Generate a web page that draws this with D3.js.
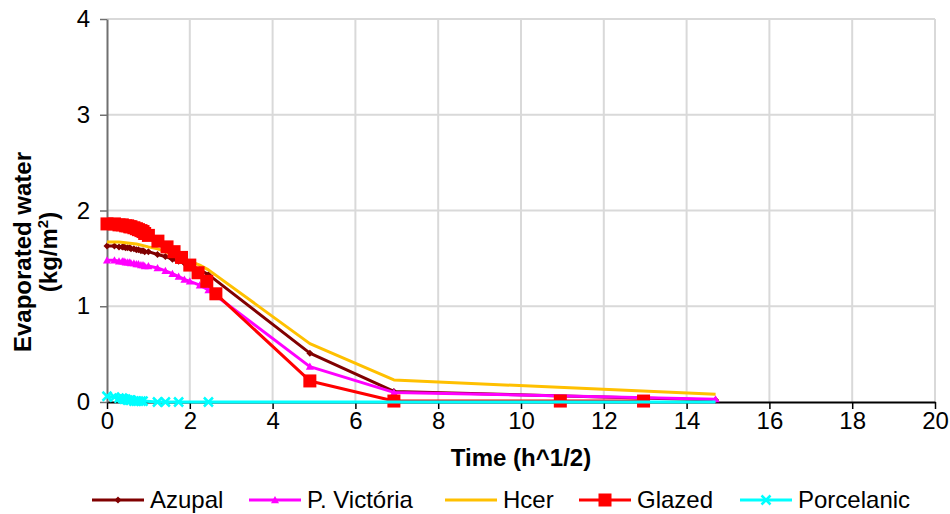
<!DOCTYPE html>
<html>
<head>
<meta charset="utf-8">
<script src="https://cdn.jsdelivr.net/npm/d3@7"></script>
<style>
  html, body { margin: 0; padding: 0; background: #fff; }
  svg { display: block; font-family: "Liberation Sans", Arial, sans-serif; }
</style>
</head>
<body>
<svg id="chart" width="950" height="514"></svg>
<script>
// Drying curves: evaporated water (kg/m²) against the square root of time (h^1/2)
const seriesNames = ["Azupal", "P. Victória", "Hcer", "Glazed", "Porcelanic"];

const azupalTime = [0, 0.18, 0.29, 0.37, 0.41, 0.45, 0.5, 0.55, 0.58, 0.65, 0.71, 0.76, 0.82, 0.87, 0.91, 1.0, 1.22, 1.41, 1.58, 1.73, 1.87, 2.0, 2.24, 2.45, 4.9, 6.93, 14.7];
const azupalWater = [1.63, 1.63, 1.62, 1.62, 1.62, 1.61, 1.61, 1.61, 1.60, 1.60, 1.59, 1.59, 1.58, 1.58, 1.57, 1.57, 1.54, 1.52, 1.49, 1.47, 1.45, 1.43, 1.38, 1.33, 0.51, 0.11, 0.02];

const victoriaTime = [0, 0.18, 0.29, 0.37, 0.41, 0.45, 0.5, 0.55, 0.58, 0.65, 0.71, 0.76, 0.82, 0.87, 0.91, 1.0, 1.22, 1.41, 1.58, 1.73, 1.87, 2.0, 2.24, 2.45, 4.9, 6.93, 14.7];
const victoriaWater = [1.48, 1.48, 1.47, 1.47, 1.47, 1.46, 1.46, 1.46, 1.45, 1.45, 1.44, 1.44, 1.43, 1.43, 1.42, 1.42, 1.40, 1.37, 1.34, 1.31, 1.28, 1.26, 1.22, 1.17, 0.37, 0.10, 0.03];

const hcerTime = [0, 0.29, 0.5, 0.71, 1.0, 1.22, 1.41, 1.58, 1.73, 2.0, 2.24, 2.45, 4.9, 6.93, 14.7];
const hcerWater = [1.67, 1.67, 1.66, 1.65, 1.62, 1.60, 1.57, 1.54, 1.52, 1.47, 1.43, 1.38, 0.61, 0.23, 0.08];

const glazedTime = [0, 0.18, 0.29, 0.37, 0.45, 0.5, 0.55, 0.58, 0.65, 0.71, 0.76, 0.82, 0.87, 0.91, 1.0, 1.23, 1.45, 1.62, 1.8, 2.0, 2.2, 2.41, 2.63, 4.9, 6.93, 10.95, 12.96];
const glazedWater = [1.86, 1.86, 1.85, 1.85, 1.84, 1.84, 1.83, 1.83, 1.82, 1.81, 1.80, 1.79, 1.78, 1.76, 1.74, 1.68, 1.62, 1.57, 1.51, 1.43, 1.35, 1.26, 1.13, 0.22, 0.01, 0.01, 0.01];

const porcelanicTime = [0, 0.18, 0.29, 0.37, 0.41, 0.45, 0.5, 0.55, 0.58, 0.65, 0.71, 0.76, 0.82, 0.87, 1.22, 1.41, 1.73, 2.45, 14.7];
const porcelanicWater = [0.06, 0.05, 0.04, 0.04, 0.03, 0.03, 0.02, 0.02, 0.02, 0.01, 0.01, 0.01, 0.01, 0.01, 0.0, 0.0, 0.0, 0.0, 0.0];
// last Porcelanic reading is plotted without a marker
const porcelanicMarkedCount = 18;

const xTicks = [0, 2, 4, 6, 8, 10, 12, 14, 16, 18, 20];
const yTicks = [0, 1, 2, 3, 4];

const series = [
  { name: seriesNames[0], t: azupalTime, w: azupalWater, color: "#800000", marker: "diamond" },
  { name: seriesNames[1], t: victoriaTime, w: victoriaWater, color: "#FF00FF", marker: "triangle" },
  { name: seriesNames[2], t: hcerTime, w: hcerWater, color: "#FFC000", marker: "none" },
  { name: seriesNames[3], t: glazedTime, w: glazedWater, color: "#FF0000", marker: "square" },
  { name: seriesNames[4], t: porcelanicTime, w: porcelanicWater, color: "#00FFFF", marker: "cross", marked: porcelanicMarkedCount }
];

const svg = d3.select("#chart");
const plot = { left: 107, right: 935, top: 19, bottom: 402 };

const x = d3.scaleLinear().domain([0, 20]).range([plot.left, plot.right]);
const y = d3.scaleLinear().domain([0, 4]).range([plot.bottom, plot.top]);

// grid
const grid = svg.append("g");
grid.selectAll("line.v").data(xTicks.slice(1)).join("line")
  .attr("x1", d => x(d)).attr("x2", d => x(d))
  .attr("y1", plot.top).attr("y2", plot.bottom)
  .attr("stroke", "#d9d9d9").attr("stroke-width", 2);
grid.selectAll("line.h").data(yTicks.slice(1)).join("line")
  .attr("x1", plot.left).attr("x2", plot.right)
  .attr("y1", d => y(d)).attr("y2", d => y(d))
  .attr("stroke", "#d9d9d9").attr("stroke-width", 2);

// axes
const fontSize = 24;
const fontFamily = "Liberation Sans, Arial, sans-serif";
const xAxis = svg.append("g").attr("transform", `translate(0,${plot.bottom})`)
  .call(d3.axisBottom(x).tickValues(xTicks).tickFormat(d3.format("d")).tickSizeInner(7).tickSizeOuter(0).tickPadding(3));
xAxis.select(".domain").attr("stroke", "#000").attr("stroke-width", 2);
xAxis.selectAll(".tick line").attr("stroke", "#000").attr("stroke-width", 1.5);
xAxis.selectAll(".tick text").attr("font-size", fontSize).attr("fill", "#000").attr("font-family", fontFamily);

const yAxis = svg.append("g").attr("transform", `translate(${plot.left},0)`)
  .call(d3.axisLeft(y).tickValues(yTicks).tickFormat(d3.format("d")).tickSizeInner(7).tickSizeOuter(0).tickPadding(10));
yAxis.select(".domain").attr("stroke", "#707070").attr("stroke-width", 2);
yAxis.selectAll(".tick line").attr("stroke", "#707070").attr("stroke-width", 1.5);
yAxis.selectAll(".tick text").attr("font-size", fontSize).attr("fill", "#000").attr("font-family", fontFamily);

// axis titles
svg.append("text")
  .attr("x", x(10)).attr("y", 466)
  .attr("text-anchor", "middle").attr("font-weight", "bold").attr("font-size", fontSize)
  .text("Time (h^1/2)");

const yTitle = svg.append("text")
  .attr("transform", "translate(0,252) rotate(-90)")
  .attr("text-anchor", "middle").attr("font-weight", "bold").attr("font-size", fontSize);
yTitle.append("tspan").attr("x", 0).attr("y", 31).text("Evaporated water");
yTitle.append("tspan").attr("x", 0).attr("y", 57).text("(kg/m");
yTitle.append("tspan").attr("dy", -9).attr("font-size", 15).text("2");
yTitle.append("tspan").attr("dy", 9).text(")");

// markers
function drawMarker(g, kind, color, cx, cy) {
  if (kind === "diamond") {
    const r = 3.5;
    g.append("path").attr("d", `M${cx},${cy - r}L${cx + r},${cy}L${cx},${cy + r}L${cx - r},${cy}Z`).attr("fill", color);
  } else if (kind === "triangle") {
    const r = 4;
    g.append("path").attr("d", `M${cx},${cy - r}L${cx + r},${cy + r * 0.8}L${cx - r},${cy + r * 0.8}Z`).attr("fill", color);
  } else if (kind === "square") {
    const r = 6.5;
    g.append("rect").attr("x", cx - r).attr("y", cy - r).attr("width", 2 * r).attr("height", 2 * r).attr("fill", color);
  } else if (kind === "cross") {
    const r = 4.5;
    g.append("path").attr("d", `M${cx - r},${cy - r}L${cx + r},${cy + r}M${cx - r},${cy + r}L${cx + r},${cy - r}`)
      .attr("stroke", color).attr("stroke-width", 2.5).attr("fill", "none");
  }
}

const line = d3.line().x(d => x(d[0])).y(d => y(d[1]));
const marks = svg.append("g");
series.forEach(s => {
  const pts = s.t.map((t, i) => [t, s.w[i]]);
  const g = marks.append("g");
  g.append("path").attr("d", line(pts)).attr("fill", "none")
    .attr("stroke", s.color).attr("stroke-width", 3).attr("stroke-linejoin", "round");
  const n = s.marked !== undefined ? s.marked : pts.length;
  pts.slice(0, n).forEach(p => drawMarker(g, s.marker, s.color, x(p[0]), y(p[1])));
});

// legend
const legendX = [92, 249, 445, 579, 740];
const legend = svg.append("g");
series.forEach((s, i) => {
  const lx = legendX[i];
  const ly = 500;
  legend.append("line").attr("x1", lx).attr("x2", lx + 52).attr("y1", ly).attr("y2", ly)
    .attr("stroke", s.color).attr("stroke-width", 3);
  drawMarker(legend.append("g"), s.marker, s.color, lx + 26, ly);
  legend.append("text").attr("x", lx + 58).attr("y", ly + 8)
    .attr("font-size", fontSize).attr("fill", "#000").text(s.name);
});
</script>
</body>
</html>
